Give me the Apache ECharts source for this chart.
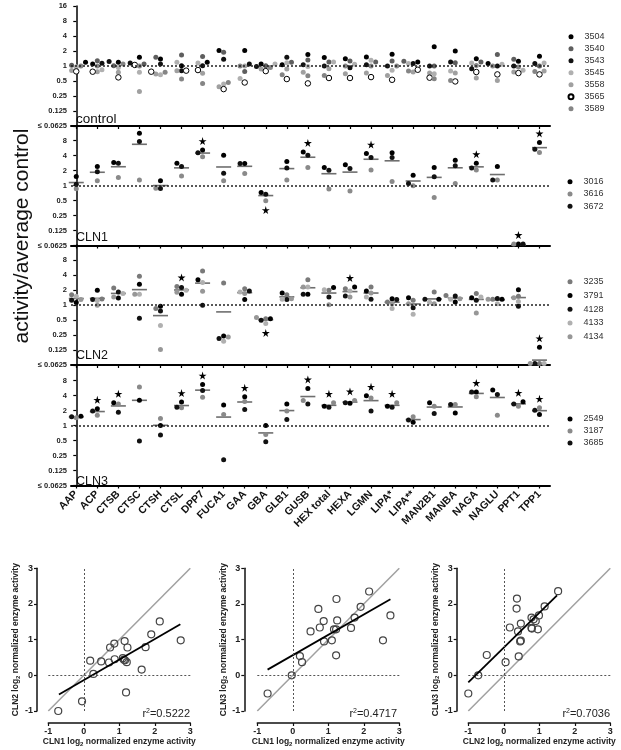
<!DOCTYPE html>
<html><head><meta charset="utf-8">
<script src="https://cdn.jsdelivr.net/npm/echarts@6/dist/echarts.min.js"></script>
<style>html,body{margin:0;padding:0;background:#fff}#c{width:621px;height:750px}</style>
</head><body><div id="c"></div>
<script>
// ---------- categories & tick labels ----------
const enzymes = ['AAP','ACP','CTSB','CTSC','CTSH','CTSL','DPP7','FUCA1','GAA','GBA','GLB1','GUSB','HEX total','HEXA','LGMN','LIPA*','LIPA**','MAN2B1','MANBA','NAGA','NAGLU','PPT1','TPP1'];
const yTickLabels = ['≤ 0.0625','0.125','0.25','0.5','1','2','4','8','16']; // log2 -4..4
const panelNames = ['control','CLN1','CLN2','CLN3'];

// ---------- log2(activity / average control) ----------
const ctrl_3504 = [0.25,0.13,0.25,0.58,0.47,0.02,0.25,1.03,1.03,0.13,0.09,0.76,0.56,0.49,0.6,0.78,0.27,1.28,1.0,0.49,0.16,0.31,0.65];
const ctrl_3540 = [0.05,0.35,0.02,0.13,0.58,0.74,0.63,0.92,-0.36,0.02,0.25,0.4,0.27,0.34,0.27,0.34,0.31,0,0.22,0.27,0.76,0.45,0];
const ctrl_3543 = [0.18,0.18,0.3,0.2,0.13,-0.31,0.02,0.45,0.13,-0.04,0.58,0.09,0,-0.11,0.09,0,0.16,0,0.27,-0.18,0,0,0.16];
const ctrl_3545 = [-0.05,-0.25,-0.1,-0.42,-0.58,0.25,0.2,-1.2,-0.83,0.13,0.22,-0.04,0.27,0.11,0.38,-0.29,0.16,-0.51,-0.34,0.2,0.11,-0.29,0.2];
const ctrl_3558 = [-0.3,-0.38,-0.42,-1.7,-0.54,-0.31,-0.49,-1.39,0,-0.2,-0.2,-0.42,-0.18,-0.51,-0.47,-0.63,-0.4,-0.47,-0.47,-0.8,-0.96,-0.4,-0.34];
const ctrl_3565 = [-0.36,-0.38,-0.76,0.07,-0.38,-0.31,-0.27,-1.54,-1.1,-0.34,-0.87,-1.16,-0.8,-0.8,-0.74,-0.92,-0.25,-0.78,-1.03,-0.4,-0.56,-0.47,-0.56];
const ctrl_3589 = [0,0,0.13,0,-0.42,-0.87,-1.16,-1.1,0,-0.1,-0.58,-0.65,-0.63,0,0,0,-0.34,-0.85,-0.96,0.04,0,-0.07,-0.36];

const cln1_3016 = [0.6,1.27,1.53,3.49,0.31,1.49,2.36,2.02,1.47,-0.47,1.6,2.24,1.2,1.38,2.13,2.18,0.69,1.2,1.69,1.49,1.27,-4,2.87];
const cln1_3616 = [-0.22,0.31,0.53,0.36,-0.18,0.64,1.91,0.31,0.8,-1.02,0.36,1.2,-0.24,-0.36,1.04,0.27,-0.02,-0.8,0.13,1.04,0.36,-4,2.2];
const cln1_3672 = [0.09,0.91,1.49,2.93,-0.2,1.27,2.18,0.82,1.47,-0.58,1.16,2.02,1.02,1.13,1.87,1.87,0.13,0.58,1.31,1.16,0.36,-4,2.42];

const cln2_3235 = [0.69,0.4,1.13,1.91,-0.24,1.24,2.27,1.47,1.09,-0.91,0.69,1.69,0.98,1.09,1.2,0.2,0.31,0.87,0.64,0.76,0.38,0.58,-4];
const cln2_3791 = [0.16,0.98,0.47,1.38,-0.09,0.71,1.69,-2.07,0.36,-0.91,0.8,0.71,1.16,1.2,0.93,0.42,0.49,0.38,0.2,0.49,0.38,1.02,-2.82];
const cln2_4128 = [0.31,0.36,0.87,-0.89,-0.4,1.16,-0.02,-2.24,0.93,-1.02,0.36,0.71,0.53,0.6,0.38,0.36,-0.18,0.38,0.6,0.31,0.44,-0.09,-4];
const cln2_4133 = [0.58,0.3,0.76,0.71,-1.36,0.98,1.5,-2.42,0.87,-1.24,0.38,1.2,1.02,0.93,0.53,-0.24,-0.62,0.18,0.38,0.53,0.09,0.24,-4];
const cln2_4134 = [0.36,-0.02,0.53,0.71,-2.96,0.85,0.91,-2.13,0.76,-0.84,0.42,1.2,0.02,0.53,0.8,0.09,0.09,0.09,0.42,-0.53,0.38,0.49,-4];

const cln3_2549 = [0.62,1.11,1.51,1.69,0,1.56,2.73,1.36,1.91,0,1.44,2.47,1.29,1.49,1.98,1.29,0.22,1.51,0.84,2.24,2.36,1.58,0.73];
const cln3_3187 = [0.51,0.69,1.44,2.56,0.47,1.18,1.89,0.73,1.6,-0.6,0.96,1.67,1.51,1.67,1.84,1.51,0.58,1.29,1.4,1.91,0.69,1.29,1.18];
const cln3_3685 = [0.58,0.96,0.89,-1.04,-0.64,1.22,2.33,-2.29,1.07,-1.09,0.4,1.44,1.22,1.51,0.96,1.22,0.36,0.8,1.4,2.24,2.07,1.44,1.02];

// significance stars (category indices)
const cln1StarsUp = [6,11,14,19,21,22], cln1StarsDown = [9];
const cln2StarsUp = [5,13,22], cln2StarsDown = [9];
const cln3StarsUp = [1,2,5,6,8,11,12,13,14,15,19,21,22], cln3StarsDown = [];

// ---------- correlation panels (log2 normalized enzyme activity) ----------
const sc1Points = [[-0.72,-1.0],[-0.05,-0.73],[0.18,0.41],[0.27,0.04],[0.49,0.39],[0.71,0.36],[0.74,0.78],[0.86,0.89],[0.87,0.45],[1.10,0.48],[1.13,0.44],[1.15,0.96],[1.16,0.42],[1.21,0.37],[1.23,0.78],[1.19,-0.48],[1.63,0.16],[1.74,0.79],[1.90,1.15],[2.14,1.51],[2.73,0.98]];
const sc2Points = [[-0.71,-0.51],[-0.03,0.0],[0.20,0.54],[0.26,0.37],[0.5,1.23],[0.72,1.86],[0.76,1.34],[0.87,1.52],[0.88,0.95],[1.10,0.98],[1.16,1.29],[1.22,1.29],[1.23,2.14],[1.25,1.54],[1.22,0.56],[1.64,1.33],[1.74,1.62],[1.91,1.92],[2.15,2.35],[2.75,1.68],[2.54,0.98]];
const sc3Points = [[-1.0,-0.51],[-0.72,0.0],[-0.48,0.57],[0.05,0.37],[0.17,1.34],[0.36,1.87],[0.37,2.15],[0.40,1.23],[0.42,0.53],[0.46,0.95],[0.48,1.45],[0.48,0.97],[0.78,1.62],[0.78,1.33],[0.79,1.31],[0.84,1.57],[0.90,1.52],[0.96,1.29],[0.99,1.68],[1.15,1.93],[1.53,2.36]];
const identityLine = [[-1,-1],[3,3]];
const sc1Fit = [[-0.7,-0.54],[2.72,1.43]];
const sc2Fit = [[-0.71,0.16],[2.75,2.13]];
const sc3Fit = [[-1.0,-0.2],[1.5,2.24]];
const rSquared = ['0.5222','0.4717','0.7036'];
const scXNames = ['CLN1','CLN1','CLN2'];
const scYNames = ['CLN2','CLN3','CLN3'];

// ---------- build ----------
const FONT = 'Liberation Sans, Arial, sans-serif';
const panels = [
  {reps:[['3504',ctrl_3504,'#000'],['3540',ctrl_3540,'#5e5e5e'],['3543',ctrl_3543,'#111'],['3545',ctrl_3545,'#b0b0b0'],['3558',ctrl_3558,'#a0a0a0'],['3565',ctrl_3565,'open'],['3589',ctrl_3589,'#858585']], up:[], down:[], mean:false, legendTop:25.7, legendRow:12},
  {reps:[['3016',cln1_3016,'#000'],['3616',cln1_3616,'#8a8a8a'],['3672',cln1_3672,'#111']], up:cln1StarsUp, down:cln1StarsDown, mean:true, legendTop:170.7, legendRow:12.2},
  {reps:[['3235',cln2_3235,'#7a7a7a'],['3791',cln2_3791,'#000'],['4128',cln2_4128,'#111'],['4133',cln2_4133,'#b0b0b0'],['4134',cln2_4134,'#979797']], up:cln2StarsUp, down:cln2StarsDown, mean:true, legendTop:269.8, legendRow:13.75},
  {reps:[['2549',cln3_2549,'#000'],['3187',cln3_3187,'#8a8a8a'],['3685',cln3_3685,'#111']], up:cln3StarsUp, down:cln3StarsDown, mean:true, legendTop:408, legendRow:12}
];
const tops = [6,125.5,245,365.5], PH = 120;
const disp = v => Math.max(v, -3.9);
const STAR = 'path://M50,0 L61,35 L98,35 L68,57 L79,91 L50,70 L21,91 L32,57 L2,35 L39,35 Z';

function swarm(vals){
  const pxCat = 21.05, pxUnit = 14.9, size = 4.6, step = 0.22;
  const order = vals.map((v,i)=>i).sort((a,b)=>vals[a]-vals[b]);
  const placed = [], offs = new Array(vals.length).fill(0);
  for (const i of order){
    for (const k of [0,-1,1,-2,2,-3,3,-4,4]){
      const dx = k*step;
      const ok = placed.every(p => Math.abs(p.dx-dx)*pxCat >= size || Math.abs(p.v-vals[i])*pxUnit >= size);
      if (ok){ offs[i]=dx; placed.push({dx, v:vals[i]}); break; }
    }
  }
  return offs;
}

const grid=[], xAxis=[], yAxis=[], series=[], legend=[], graphic=[];
panels.forEach((P,p)=>{
  grid.push({left:71, top:tops[p], width:479, height:PH, outerBoundsMode:'none'});
  xAxis.push({type:'value', gridIndex:p, min:-0.25, max:22.5,
    axisLine:{show:true, onZero:false, lineStyle:{color:'#000', width:2}},
    axisTick:{show:true, customValues:enzymes.map((_,i)=>i), length:3, lineStyle:{color:'#000', width:1.2}},
    axisLabel:{show:p===3, customValues:enzymes.map((_,i)=>i), formatter:v=>enzymes[Math.round(v)], rotate:45, margin:7, fontSize:10.5, fontWeight:'bold', color:'#111', fontFamily:FONT},
    splitLine:{show:false}});
  yAxis.push({type:'value', gridIndex:p, min:-4, max:4, interval:1,
    axisLine:{show:true, lineStyle:{color:'#000', width:1.5}},
    axisTick:{show:true, length:3, lineStyle:{color:'#000', width:1.2}},
    axisLabel:{fontSize:7.5, fontWeight:'bold', color:'#222', margin:4, fontFamily:FONT, showMaxLabel:p===0, showMinLabel:true,
      formatter:v=>yTickLabels[Math.round(v)+4]},
    splitLine:{show:false}});
  const offsets = enzymes.map((_,c)=>swarm(P.reps.map(r=>disp(r[1][c]))));
  P.reps.forEach((r,ri)=>{
    const open = r[2]==='open';
    series.push({type:'scatter', name:r[0], xAxisIndex:p, yAxisIndex:p, symbol:'circle', symbolSize:open?5.5:5, z:3, silent:true,
      itemStyle:open?{color:'#fff', borderColor:'#000', borderWidth:1, opacity:1}:{color:r[2], opacity:1},
      data:r[1].map((v,c)=>[c+offsets[c][ri], disp(v)]),
      markLine: ri===0 ? {silent:true, symbol:'none', label:{show:false}, lineStyle:{type:[2,2], color:'#222', width:1.5}, data:[{yAxis:0}]} : undefined
    });
  });
  if (P.mean){
    series.push({type:'scatter', xAxisIndex:p, yAxisIndex:p, symbol:'rect', symbolSize:[15,1.6], z:2, silent:true,
      itemStyle:{color:'#6e6e6e', opacity:1},
      data:enzymes.map((_,c)=>{
        const m = P.reps.reduce((s,r)=>s+Math.pow(2,r[1][c]),0)/P.reps.length;
        return [c, Math.max(Math.log2(m), -3.95)];
      })});
  }
  const stars = [];
  P.up.forEach(c=>stars.push([c, Math.max(...P.reps.map(r=>disp(r[1][c])))+0.6]));
  P.down.forEach(c=>stars.push([c, Math.min(...P.reps.map(r=>disp(r[1][c])))-0.62]));
  if (stars.length) series.push({type:'scatter', xAxisIndex:p, yAxisIndex:p, symbol:STAR, symbolSize:8, z:4, silent:true, itemStyle:{color:'#000', opacity:1}, data:stars});
  legend.push({data:P.reps.map(r=>r[0]), orient:'vertical', left:562.5, top:P.legendTop, itemWidth:5, itemHeight:5, itemGap:0, icon:'circle', selectedMode:false,
    textStyle:{fontSize:9, color:'#333', fontFamily:FONT, lineHeight:P.legendRow, padding:[0,0,0,6]}});
});

// scatter correlation panels
const scGrids = [{left:48.3, off:11.3},{left:257.3, off:13},{left:468.3, off:11.6}];
const scPts = [sc1Points, sc2Points, sc3Points], scFit = [sc1Fit, sc2Fit, sc3Fit];
const rRight = [190, 397, 610];
scGrids.forEach((g,k)=>{
  const gi = 4+k;
  grid.push({left:g.left, top:568.3, width:142, height:142.7, outerBoundsMode:'none'});
  const rich = {a:{fontSize:8.5, fontWeight:'bold', color:'#222', fontFamily:FONT}, s:{fontSize:6, fontWeight:'bold', color:'#222', fontFamily:FONT, verticalAlign:'bottom', padding:[4,0,0,0]}};
  xAxis.push({type:'value', gridIndex:gi, min:-1, max:3, interval:1, offset:12,
    axisLine:{show:true, onZero:false, lineStyle:{color:'#111', width:1.5}},
    axisTick:{length:3, lineStyle:{color:'#111', width:1.2}},
    axisLabel:{fontSize:9, fontWeight:'bold', color:'#222', margin:4, fontFamily:FONT},
    splitLine:{show:false},
    name:'{a|'+scXNames[k]+' log}{s|2}{a| normalized enzyme activity}', nameLocation:'middle', nameGap:14, nameTextStyle:{rich}});
  yAxis.push({type:'value', gridIndex:gi, min:-1, max:3, interval:1, offset:g.off,
    axisLine:{show:true, onZero:false, lineStyle:{color:'#111', width:1.5}},
    axisTick:{length:3, lineStyle:{color:'#111', width:1.2}},
    axisLabel:{fontSize:9, fontWeight:'bold', color:'#222', margin:4, fontFamily:FONT},
    splitLine:{show:false},
    name:'{a|'+scYNames[k]+' log}{s|2}{a| normalized enzyme activity}', nameLocation:'middle', nameGap:10, nameTextStyle:{rich}});
  series.push({type:'line', xAxisIndex:gi, yAxisIndex:gi, data:identityLine, symbol:'none', silent:true, z:1, lineStyle:{color:'#a0a0a0', width:1.5}});
  series.push({type:'scatter', xAxisIndex:gi, yAxisIndex:gi, data:scPts[k], symbol:'circle', symbolSize:7, z:3, silent:true,
    itemStyle:{color:'rgba(255,255,255,0)', borderColor:'#444', borderWidth:1.2, opacity:1},
    markLine:{silent:true, symbol:'none', label:{show:false}, lineStyle:{type:[2,2], color:'#555', width:1}, data:[{xAxis:0},{yAxis:0}]}});
  series.push({type:'line', xAxisIndex:gi, yAxisIndex:gi, data:scFit[k], symbol:'none', silent:true, z:4, lineStyle:{color:'#000', width:1.8}});
  graphic.push({type:'text', x:rRight[k], y:719, silent:true, style:{text:'{a|r}{s|2}{a|=' + rSquared[k] + '}', align:'right', verticalAlign:'bottom',
    rich:{a:{fontSize:11, fill:'#222', fontFamily:FONT}, s:{fontSize:7, fill:'#222', fontFamily:FONT, verticalAlign:'top'}}}});
});

graphic.push({type:'text', x:22, y:236, rotation:Math.PI/2, silent:true, style:{text:'activity/average control', fontSize:21, fill:'#111', fontFamily:FONT, align:'center', verticalAlign:'middle'}});
const labelBase = [124, 241, 359.5, 485];
panelNames.forEach((n,p)=>graphic.push({type:'text', x:76, y:labelBase[p]+2.7, silent:true, style:{text:n, fontSize:p===0?13.5:12.5, fill:'#111', fontFamily:FONT, align:'left', verticalAlign:'bottom'}}));

const chart = echarts.init(document.getElementById('c'), null, {renderer:'canvas'});
chart.setOption({animation:false, backgroundColor:'#fff', grid, xAxis, yAxis, legend, series, graphic});
</script></body></html>
